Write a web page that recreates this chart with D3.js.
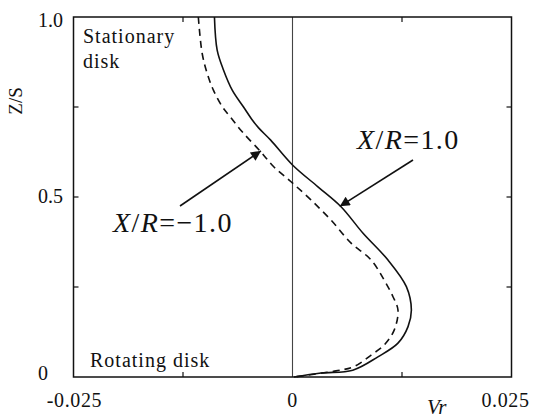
<!DOCTYPE html>
<html>
<head>
<meta charset="utf-8">
<script src="https://cdn.jsdelivr.net/npm/d3@7"></script>
<style>
  html, body { margin: 0; padding: 0; background: #fff; }
</style>
</head>
<body>
<svg id="chart" width="535" height="419"></svg>
<script>
// Radial velocity profiles Vr across the gap Z/S
const zPos = [1.000, 0.908, 0.853, 0.797, 0.750, 0.714, 0.692, 0.658, 0.589, 0.529, 0.473,
              0.400, 0.325, 0.251, 0.186, 0.140, 0.094, 0.056, 0.019, 0.011, 0.000];
const vrPos = [-0.00891, -0.00860, -0.00788, -0.00688, -0.00559, -0.00459, -0.00387, -0.00249,
               0.00000, 0.00287, 0.00554, 0.00803, 0.01090, 0.01300, 0.01357, 0.01319,
               0.01204, 0.00975, 0.00688, 0.00325, 0.00015];

const zNeg = [1.000, 0.900, 0.844, 0.797, 0.750, 0.722, 0.681, 0.626, 0.584, 0.543, 0.492,
              0.436, 0.372, 0.325, 0.269, 0.223, 0.186, 0.131, 0.089, 0.061, 0.029, 0.017, 0.000];
const vrNeg = [-0.01075, -0.01032, -0.00975, -0.00903, -0.00799, -0.00708, -0.00574, -0.00364,
               -0.00214, -0.00020, 0.00210, 0.00439, 0.00669, 0.00898, 0.01047, 0.01147,
               0.01204, 0.01162, 0.01047, 0.00898, 0.00703, 0.00497, 0.00015];

const xTickValues = [-0.025, 0, 0.025];
const xTickLabels = ["-0.025", "0", "0.025"];
const xMinorTicks = [-0.0125, 0.0125];
const yTickValues = [0, 0.5, 1.0];
const yTickLabels = ["0", "0.5", "1.0"];
const yMinorTicks = [0.25, 0.5, 0.75];

const FONT = "'Liberation Serif', 'Times New Roman', 'DejaVu Serif', serif";
const svg = d3.select("#chart");
const plot = { left: 73.5, right: 511.5, top: 17, bottom: 377 };

const x = d3.scaleLinear().domain([-0.025, 0.025]).range([plot.left, plot.right]);
const y = d3.scaleLinear().domain([0, 1]).range([plot.bottom, plot.top]);

function txt(parent) {
  return parent.append("text").attr("font-family", FONT).attr("fill", "#111");
}

// zero reference line
svg.append("line")
  .attr("x1", x(0)).attr("x2", x(0))
  .attr("y1", y(0)).attr("y2", y(1))
  .attr("stroke", "#444").attr("stroke-width", 1.1);

// inward minor ticks on all four sides
const tickLen = 5;
const tg = svg.append("g").attr("stroke", "#111").attr("stroke-width", 1.2);
xMinorTicks.forEach(v => {
  tg.append("line").attr("x1", x(v)).attr("x2", x(v)).attr("y1", y(0)).attr("y2", y(0) - tickLen);
  tg.append("line").attr("x1", x(v)).attr("x2", x(v)).attr("y1", y(1)).attr("y2", y(1) + tickLen);
});
yMinorTicks.forEach(v => {
  tg.append("line").attr("x1", x(-0.025)).attr("x2", x(-0.025) + tickLen).attr("y1", y(v)).attr("y2", y(v));
  tg.append("line").attr("x1", x(0.025)).attr("x2", x(0.025) - tickLen).attr("y1", y(v)).attr("y2", y(v));
});

// frame
svg.append("rect")
  .attr("x", plot.left).attr("y", plot.top)
  .attr("width", plot.right - plot.left).attr("height", plot.bottom - plot.top)
  .attr("fill", "none").attr("stroke", "#111").attr("stroke-width", 1.5);

// curves
const profile = d3.line().x(d => x(d[0])).y(d => y(d[1])).curve(d3.curveCatmullRom.alpha(0.5));

svg.append("path")
  .datum(d3.zip(vrNeg, zNeg))
  .attr("d", profile)
  .attr("fill", "none").attr("stroke", "#111").attr("stroke-width", 1.6)
  .attr("stroke-dasharray", "7,5");

svg.append("path")
  .datum(d3.zip(vrPos, zPos))
  .attr("d", profile)
  .attr("fill", "none").attr("stroke", "#111").attr("stroke-width", 1.6);

// tick labels
const labelSize = 20;
xTickValues.forEach((v, i) => {
  txt(svg)
    .attr("x", x(v) - (i === 2 ? 6 : 0) + (i === 0 ? 1 : 0))
    .attr("y", 407)
    .attr("text-anchor", "middle")
    .attr("font-size", labelSize)
    .attr("letter-spacing", 0.6)
    .text(xTickLabels[i]);
});

yTickValues.forEach((v, i) => {
  txt(svg)
    .attr("x", v === 0 ? 48 : 63)
    .attr("y", y(v) + (v === 0 ? 3 : v === 1 ? 10 : 6))
    .attr("text-anchor", "end")
    .attr("font-size", labelSize)
    .text(yTickLabels[i]);
});

// axis titles
txt(svg)
  .attr("transform", "translate(22,101) rotate(-90)")
  .attr("text-anchor", "middle")
  .attr("font-size", 19)
  .text("Z/S");

txt(svg)
  .attr("x", 427).attr("y", 414)
  .attr("font-size", 21)
  .attr("font-style", "italic")
  .text("Vr");

// wall labels
const wallSize = 20;
txt(svg).attr("x", 83).attr("y", 43).attr("font-size", wallSize).attr("letter-spacing", 1).text("Stationary");
txt(svg).attr("x", 83).attr("y", 68).attr("font-size", wallSize).attr("letter-spacing", 1).text("disk");
txt(svg).attr("x", 90).attr("y", 367).attr("font-size", wallSize).attr("letter-spacing", 1).text("Rotating disk");

// annotations with arrows
svg.append("defs").append("marker")
  .attr("id", "head")
  .attr("viewBox", "0 0 10 10")
  .attr("refX", 10).attr("refY", 5)
  .attr("markerWidth", 12).attr("markerHeight", 10)
  .attr("markerUnits", "userSpaceOnUse")
  .attr("orient", "auto")
  .append("path").attr("d", "M0,0 L10,5 L0,10 Z").attr("fill", "#111");

function annotate(label, tx, ty, from, tipV, tipZ) {
  const t = txt(svg).attr("x", tx).attr("y", ty).attr("font-size", 28).attr("letter-spacing", 1.4);
  t.append("tspan").attr("font-style", "italic").text("X");
  t.append("tspan").text("/");
  t.append("tspan").attr("font-style", "italic").text("R");
  t.append("tspan").text(label);
  svg.append("line")
    .attr("x1", from[0]).attr("y1", from[1])
    .attr("x2", x(tipV)).attr("y2", y(tipZ))
    .attr("stroke", "#111").attr("stroke-width", 1.6)
    .attr("marker-end", "url(#head)");
}

annotate("=1.0", 357, 149, [413, 160], 0.0054, 0.474);
annotate("=\u22121.0", 113, 232, [180, 206], -0.0036, 0.628);
</script>
</body>
</html>
